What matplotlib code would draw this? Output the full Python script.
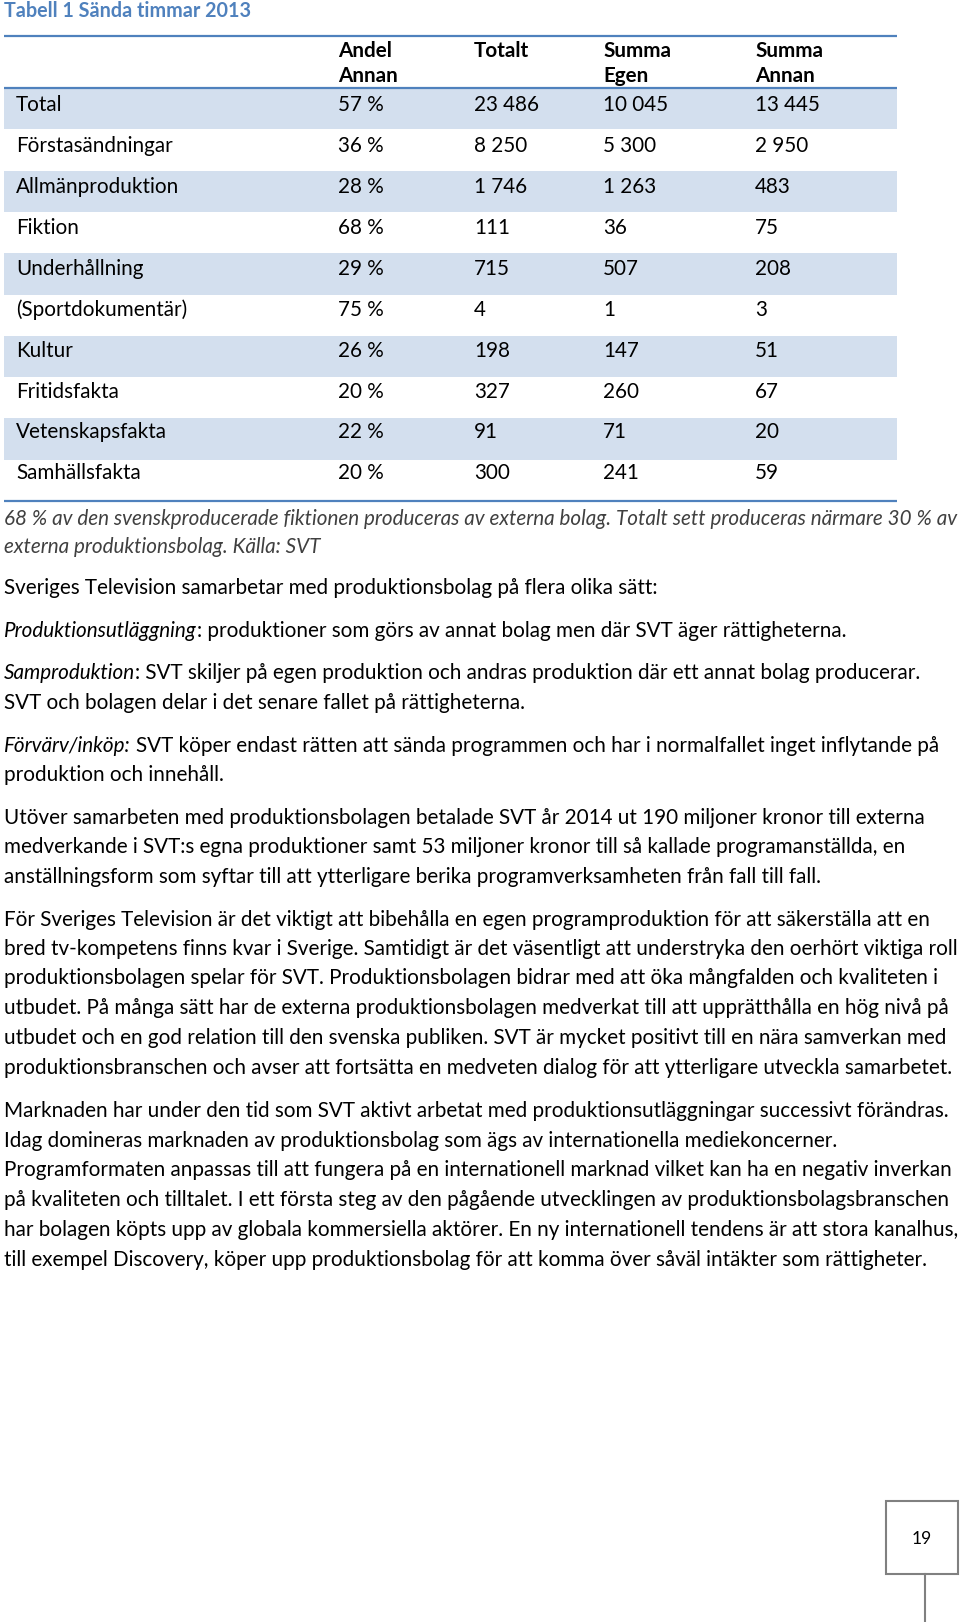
import matplotlib
matplotlib.use("Agg")
import matplotlib.pyplot as plt
from matplotlib.patches import Rectangle

W, H = 960, 1622
plt.rcParams['font.family'] = ["Lato", "DejaVu Sans"]

# ---------------- data ----------------
title = "Tabell 1 Sända timmar 2013"
header_top = ["Andel", "Totalt", "Summa", "Summa"]
header_bottom = ["Annan", "", "Egen", "Annan"]
categories = ["Total", "Förstasändningar", "Allmänproduktion", "Fiktion",
              "Underhållning", "(Sportdokumentär)", "Kultur", "Fritidsfakta",
              "Vetenskapsfakta", "Samhällsfakta"]
andel_annan = [57, 36, 28, 68, 29, 75, 26, 20, 22, 20]
totalt = [23486, 8250, 1746, 111, 715, 4, 198, 327, 91, 300]
summa_egen = [10045, 5300, 1263, 36, 507, 1, 147, 260, 71, 241]
summa_annan = [13445, 2950, 483, 75, 208, 3, 51, 67, 20, 59]

footnote_lines = [
    "68 % av den svenskproducerade fiktionen produceras av externa bolag. Totalt sett produceras närmare 30 % av",
    "externa produktionsbolag. Källa: SVT",
]

# each line: list of (text, italic)
body_lines = [
    [("Sveriges Television samarbetar med produktionsbolag på flera olika sätt:", False)],
    [("Produktionsutläggning", True), (": produktioner som görs av annat bolag men där SVT äger rättigheterna.", False)],
    [("Samproduktion", True), (": SVT skiljer på egen produktion och andras produktion där ett annat bolag producerar.", False)],
    [("SVT och bolagen delar i det senare fallet på rättigheterna.", False)],
    [("Förvärv/inköp:", True), ("SVT köper endast rätten att sända programmen och har i normalfallet inget inflytande på", False)],
    [("produktion och innehåll.", False)],
    [("Utöver samarbeten med produktionsbolagen betalade SVT år 2014 ut 190 miljoner kronor till externa", False)],
    [("medverkande i SVT:s egna produktioner samt 53 miljoner kronor till så kallade programanställda, en", False)],
    [("anställningsform som syftar till att ytterligare berika programverksamheten från fall till fall.", False)],
    [("För Sveriges Television är det viktigt att bibehålla en egen programproduktion för att säkerställa att en", False)],
    [("bred tv-kompetens finns kvar i Sverige. Samtidigt är det väsentligt att understryka den oerhört viktiga roll", False)],
    [("produktionsbolagen spelar för SVT. Produktionsbolagen bidrar med att öka mångfalden och kvaliteten i", False)],
    [("utbudet. På många sätt har de externa produktionsbolagen medverkat till att upprätthålla en hög nivå på", False)],
    [("utbudet och en god relation till den svenska publiken. SVT är mycket positivt till en nära samverkan med", False)],
    [("produktionsbranschen och avser att fortsätta en medveten dialog för att ytterligare utveckla samarbetet.", False)],
    [("Marknaden har under den tid som SVT aktivt arbetat med produktionsutläggningar successivt förändras.", False)],
    [("Idag domineras marknaden av produktionsbolag som ägs av internationella mediekoncerner.", False)],
    [("Programformaten anpassas till att fungera på en internationell marknad vilket kan ha en negativ inverkan", False)],
    [("på kvaliteten och tilltalet. I ett första steg av den pågående utvecklingen av produktionsbolagsbranschen", False)],
    [("har bolagen köpts upp av globala kommersiella aktörer. En ny internationell tendens är att stora kanalhus,", False)],
    [("till exempel Discovery, köper upp produktionsbolag för att komma över såväl intäkter som rättigheter.", False)],
]
page_number = "19"

# ---------------- layout ----------------
body_y = [585, 628, 670, 700, 743, 772, 815, 844, 874, 917, 946, 975, 1005,
          1035, 1065, 1108, 1138, 1167, 1197, 1227, 1257]
foot_y = [516, 544]
BLUE = "#4F81BD"
SHADE = "#D3DFEE"
TXT = "#000000"
FOOT = "#404040"

fig = plt.figure(figsize=(W / 100, H / 100), dpi=100)
ax = fig.add_axes([0, 0, 1, 1])
ax.set_xlim(0, W)
ax.set_ylim(H, 0)
ax.axis("off")
renderer = fig.canvas.get_renderer()


def width_px(s, size, **kw):
    t = ax.text(0, 0, s, fontsize=size, **kw)
    w = t.get_window_extent(renderer).width
    t.remove()
    return w


# fit sizes to reference line widths
BODY = 12 * 652 / width_px(body_lines[0][0][0], 12)
FOOTS = 12 * 948 / width_px(footnote_lines[0], 12, style="italic")
TITLE = 12 * 244 / width_px(title, 12, fontweight="bold")
space_w = width_px("a a", BODY) - width_px("aa", BODY)
base_off = 0.30 * BODY * 100 / 72 + 2.5

# title
ax.text(4, 10 + base_off - 1.5, title, fontsize=TITLE, fontweight="bold",
        color=BLUE, va="baseline", ha="left")

# table
x0, x1 = 4, 897
table_top, header_bot = 36, 88
row_h = 41.3
text_step = 40.9
col_x = [338, 474, 603, 755]
label_x = 16

for i in range(len(categories)):
    top = header_bot + i * row_h
    if i % 2 == 0:
        ax.add_patch(Rectangle((x0, top), x1 - x0, row_h, facecolor=SHADE,
                               edgecolor="none", zorder=0))
table_bot = header_bot + len(categories) * row_h
for y in (table_top, header_bot, table_bot):
    ax.plot([x0, x1], [y, y], color=BLUE, lw=1.6, solid_capstyle="butt", zorder=2)

for j in range(4):
    ax.text(col_x[j], 48.5 + base_off, header_top[j], fontsize=BODY, fontweight="bold",
            color=TXT, va="baseline", ha="left")
    if header_bottom[j]:
        ax.text(col_x[j], 73.5 + base_off, header_bottom[j], fontsize=BODY,
                fontweight="bold", color=TXT, va="baseline", ha="left")


def fmt(v):
    return f"{v:,}".replace(",", " ")


for i, cat in enumerate(categories):
    yc = header_bot + i * text_step + 14.5
    vals = [f"{andel_annan[i]} %", fmt(totalt[i]), fmt(summa_egen[i]), fmt(summa_annan[i])]
    ax.text(label_x, yc + base_off, cat, fontsize=BODY, color=TXT, va="baseline", ha="left")
    for j, v in enumerate(vals):
        ax.text(col_x[j], yc + base_off, v, fontsize=BODY, color=TXT,
                va="baseline", ha="left")

# footnote
for s, y in zip(footnote_lines, foot_y):
    ax.text(4, y + base_off, s, fontsize=FOOTS, style="italic", color=FOOT,
            va="baseline", ha="left")

# body text
for segs, y in zip(body_lines, body_y):
    x = 4
    for k, (s, it) in enumerate(segs):
        if k > 0 and not s.startswith(":"):
            x += space_w
        t = ax.text(x, y + base_off, s, fontsize=BODY, color=TXT,
                    style="italic" if it else "normal", va="baseline", ha="left")
        x += t.get_window_extent(renderer).width

# page number box
ax.add_patch(Rectangle((886, 1501), 72, 73, facecolor="white",
                       edgecolor="#808080", lw=1.5, zorder=3))
ax.plot([925, 925], [1574, 1622], color="#808080", lw=1.5, zorder=3)
ax.text(922, 1539, page_number, fontsize=BODY * 0.85, color=TXT,
        ha="center", va="center", zorder=4)

fig.savefig("out.png", dpi=100)
